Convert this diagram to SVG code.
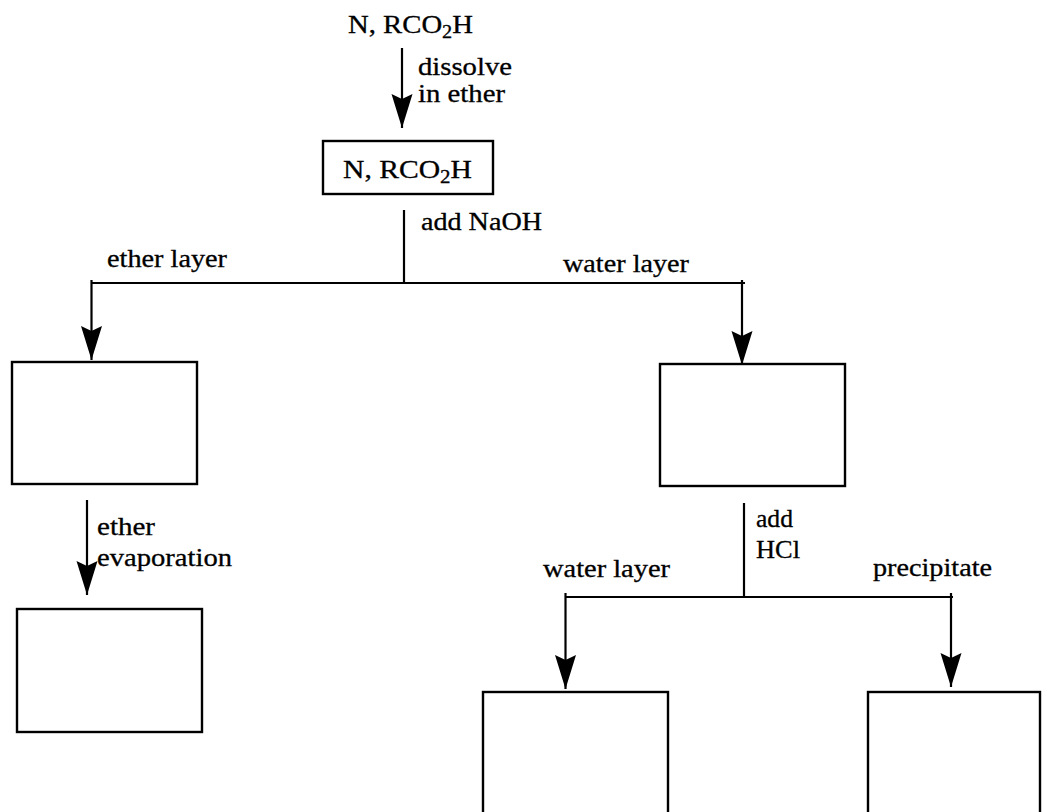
<svg xmlns="http://www.w3.org/2000/svg" width="1043" height="812" viewBox="0 0 1043 812">
<style>
.box{fill:none;stroke:#000;stroke-width:2.4}
.ln{fill:none;stroke:#000;stroke-width:2.2}
.arr{fill:none;stroke:#000;stroke-width:2.2;marker-end:url(#ah)}
text{font-family:"Liberation Serif","Times New Roman",serif;font-size:24.5px;fill:#000;stroke:#000;stroke-width:0.3}
.big{font-size:25.5px}
.sub{font-size:18px}
</style>
<defs>
<marker id="ah" markerUnits="userSpaceOnUse" markerWidth="40" markerHeight="26" viewBox="-36 -13 40 26" refX="0" refY="0" orient="auto" overflow="visible">
<path d="M0,0 L-34,-10.5 L-29,0 L-34,10.5 Z" fill="#000"/>
</marker>
</defs>
<rect width="1043" height="812" fill="#fff"/>
<g id="start">
<text class="big" x="348" y="33" textLength="125" lengthAdjust="spacingAndGlyphs">N, RCO<tspan class="sub" dy="5">2</tspan><tspan dy="-5">H</tspan></text>
</g>
<g id="mixture">
<rect class="box" x="323" y="141" width="170" height="53"/>
<text class="big" x="343" y="178" textLength="129" lengthAdjust="spacingAndGlyphs">N, RCO<tspan class="sub" dy="5">2</tspan><tspan dy="-5">H</tspan></text>
</g>
<g id="ether-layer-box"><rect class="box" x="12" y="362" width="185" height="122"/></g>
<g id="water-layer-box"><rect class="box" x="660" y="364" width="185" height="122"/></g>
<g id="evaporated-box"><rect class="box" x="17" y="609" width="185" height="123"/></g>
<g id="water-layer-2-box"><rect class="box" x="483" y="692" width="185" height="140"/></g>
<g id="precipitate-box"><rect class="box" x="868" y="692" width="172" height="140"/></g>
<g id="connectors">
<line class="arr" x1="402" y1="48" x2="402" y2="128"/>
<line class="ln" x1="404" y1="210" x2="404" y2="283"/>
<line class="ln" x1="91" y1="283" x2="745" y2="283"/>
<line class="arr" x1="91.5" y1="280" x2="91.5" y2="360"/>
<line class="arr" x1="742" y1="280" x2="742" y2="365"/>
<line class="arr" x1="87" y1="500" x2="87" y2="595"/>
<line class="ln" x1="744" y1="503" x2="744" y2="597"/>
<line class="ln" x1="565" y1="597" x2="953" y2="597"/>
<line class="arr" x1="565.5" y1="593" x2="565.5" y2="689"/>
<line class="arr" x1="951" y1="593" x2="951" y2="687"/>
</g>
<g id="labels">
<text x="418" y="75" textLength="94" lengthAdjust="spacingAndGlyphs">dissolve</text>
<text x="418" y="102" textLength="87" lengthAdjust="spacingAndGlyphs">in ether</text>
<text x="421" y="230" textLength="121" lengthAdjust="spacingAndGlyphs">add NaOH</text>
<text x="107" y="267" textLength="120" lengthAdjust="spacingAndGlyphs">ether layer</text>
<text x="563" y="272" textLength="126" lengthAdjust="spacingAndGlyphs">water layer</text>
<text x="97" y="535" textLength="58" lengthAdjust="spacingAndGlyphs">ether</text>
<text x="97" y="566" textLength="135" lengthAdjust="spacingAndGlyphs">evaporation</text>
<text x="756" y="527" textLength="37" lengthAdjust="spacingAndGlyphs">add</text>
<text x="756" y="558" textLength="44" lengthAdjust="spacingAndGlyphs">HCl</text>
<text x="543" y="577" textLength="127" lengthAdjust="spacingAndGlyphs">water layer</text>
<text x="873" y="576" textLength="119" lengthAdjust="spacingAndGlyphs">precipitate</text>
</g>
</svg>
